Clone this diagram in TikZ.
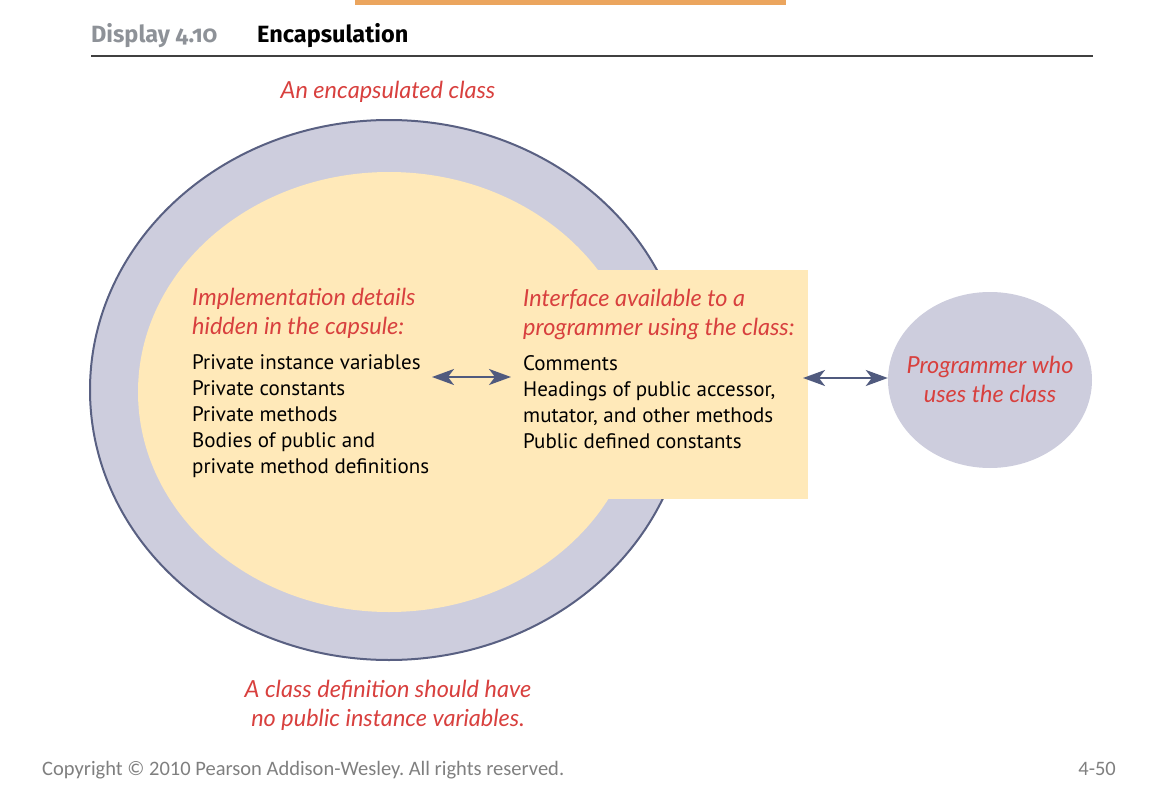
\documentclass[tikz,border=0pt]{standalone}
\usepackage{fontspec}
\setmainfont{PT Sans}
\newfontfamily\handfont{Lato}
\newfontfamily\headfont{Fira Sans}[Numbers=OldStyle]
\newfontfamily\copyfont{Carlito}
\usetikzlibrary{arrows.meta,shapes.geometric}
\definecolor{barorange}{HTML}{EBA55E}
\definecolor{titlegrey}{HTML}{8E9298}
\definecolor{rulegrey}{HTML}{404040}
\definecolor{capred}{HTML}{D8403E}
\definecolor{ringgrey}{HTML}{CDCDDD}
\definecolor{ringedge}{HTML}{596082}
\definecolor{capyellow}{HTML}{FFE9B9}
\definecolor{arrowblue}{HTML}{505A7E}
\definecolor{footgrey}{HTML}{7F7F7F}
\frenchspacing
\begin{document}
\begin{tikzpicture}[x=1pt,y=-1pt,
  hand/.style={font=\handfont\itshape\fontsize{23.5}{29}\selectfont, text=capred, inner sep=0pt},
  body/.style={font=\fontsize{21}{26}\selectfont, align=left, inner sep=0pt},
  link/.style={draw=arrowblue, line width=2pt, {Stealth[length=22pt,width=16pt,inset=6pt]}-{Stealth[length=22pt,width=16pt,inset=6pt]}}]
\useasboundingbox (0,0) rectangle (1152,792);
\fill[barorange] (355,0) rectangle (786,5);

% heading
\node[anchor=base west, inner sep=0pt, text=titlegrey, font=\headfont\bfseries\fontsize{23.5}{26}\selectfont] (disp) at (91,43) {Display 4.10};
\node[anchor=base west, inner sep=0pt, font=\headfont\bfseries\fontsize{23.5}{26}\selectfont] (enc) at (257,43) {Encapsulation};
\draw[rulegrey, line width=1.2pt] (91,56) -- (1093,56);
\node[hand, anchor=base] (capt) at (388,99) {An encapsulated class};

% capsule
\draw[fill=ringgrey, draw=ringedge, line width=2pt] (389,390) ellipse [x radius=299, y radius=270];
\fill[capyellow] (389,392) ellipse [x radius=251, y radius=220];
\fill[capyellow] (505,270) rectangle (808,499);

\node[hand, align=left, anchor=north west] (hidehd) at (192,288) {Implementation details\\hidden in the capsule:};
\node[body, anchor=north west] (hide) at (192,354) {Private instance variables\\Private constants\\Private methods\\Bodies of public and\\private method definitions};
\node[hand, align=left, anchor=north west] (showhd) at (523,289) {Interface available to a\\programmer using the class:};
\node[body, anchor=north west] (show) at (523,355) {Comments\\Headings of public accessor,\\mutator, and other methods\\Public defined constants};

% programmer
\node[ellipse, fill=ringgrey, minimum width=204pt, minimum height=176pt, inner sep=0pt] (user) at (990,380) {};
\node[hand, align=center] (usertxt) at (990,379) {Programmer who\\uses the class};

\coordinate (hideR) at (432,377);
\coordinate (showL) at (511,377);
\coordinate (showR) at (803,378);
\draw[link] (hideR) -- (showL);
\draw[link] (showR) -- (showR -| user.west);

\node[hand, align=center, anchor=north] (rule) at (388,680) {A class definition should have\\no public instance variables.};

% footer
\node[anchor=base west, inner sep=0pt, text=footgrey, font=\copyfont\fontsize{20.5}{22}\selectfont] (copy) at (42,775) {Copyright © 2010 Pearson Addison-Wesley. All rights reserved.};
\node[anchor=base east, inner sep=0pt, text=footgrey, font=\copyfont\fontsize{20.5}{22}\selectfont] (page) at (1116,775) {4-50};
\end{tikzpicture}
\end{document}
